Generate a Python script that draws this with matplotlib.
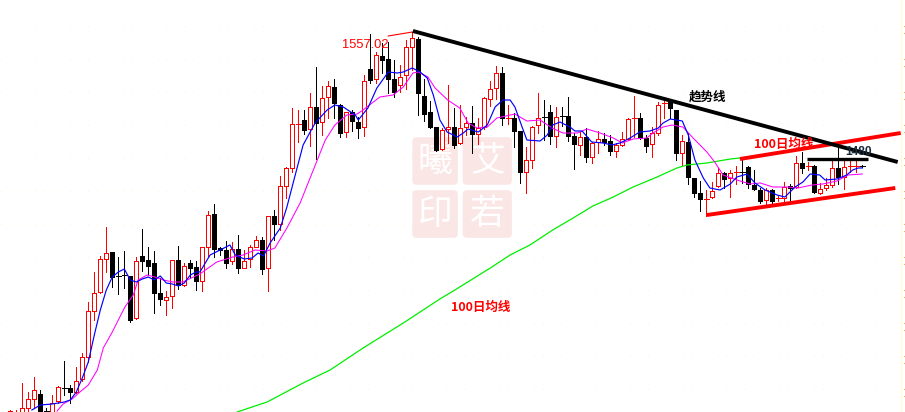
import matplotlib
matplotlib.use('Agg')
import matplotlib.pyplot as plt
from matplotlib.patches import FancyBboxPatch

# candles, levels are height above the bottom of the window
opens = [-4,-4,-2,4,13,18,1.5,0,11,24.5,24,20,33,55,101,120,153,160,136.5,137.5,136,94,156,152,149,119,112,116,152,127,149,145,131,165,198,164,162,151,163,144,153,165,172,144,196,188,226,244,288,292,283,305,290,315,325,307,280,300,290,285,343,333,356,353,333,327,337,365,373,316,300,285,263,283,285,269,285,289,278,285,313,324,339,294,294,281,240,252,287,295.5,300,276,296.5,296,276,267,275,255,270,273,271,261,267,273,294,294,274,268,279,309,310,302,259,270,234,219,213,215,226,239,234,240,240.5,245,227,222,212,222,214,214,226,225,249,246,246,219,224,227,244,235,246,246,246.5]
highs = [2,2,29,20,35,22,4,17,26,51,27,45,59,110,140,156,185,160,155,161,136,155,183,165,161,134,121,152,166,149,152,151,165,201,208,165,171,170,177,162,167,176,175,196,202,236,245,304,302,302,319,345,326,331,333,308,300,302,295,337,378,360,369,370,352,347,372,380,375,333,311,285,284,327,304,307,295,306,294,315,331,346,345,307,299,281,265,286,319,312,307,305,305,315,279,280,284,270,281,279,277,269,280,294,316,299,277,285,310,311,312,302,277,279,234,231,222,230,244,240,242,246,252,246,242,224,224,223,217,230,228,256,260,250,247,229,234,252,267,252,252,252,247]
lows = [-4,-4,-4,0,5,0,-2,-2,9,17,9,19,31,50,92,119,140,125,118,124,90,93,141,137,99,107,97,104,123,126,134,122,121,155,155,157,144,148,139,144,145,165,138,121,172,182,214,240,270,278,266,253,277,294,294,275,275,281,274,276,329,329,339,319,315,320,323,342,297,291,284,261,262,269,264,268,277,259,268,283,306,313,287,288,265,229,219,244,279,272,268,265,286,271,243,257,250,249,259,267,257,255,266,272,275,273,260,255,277,294,294,252,247,228,215,201,196,214,225,224,215,228,229,224,222,209,207,208,211,209,210,224,239,242,219,218,222,225,228,223,240,240,245]
closes = [1,0,4,13,22,1,1,9,25,24,20,31,55,101,119,153,159,135,136,137,92,151,151,146,119,113,115,152,127,146,144,131,165,197,163,162,149,163,144,151,165,172,143,196,188,226,244,288,288.5,282,305,289,314,326,309,279,300,291,284,331,332,357,352,333,320,335,365,374,319,298,285,262,282,285,267,284,289,278,284,314,323,339,294,294.5,281,240,252,285,294,295,276,295,296,276,268,275,255,269,273,270,261,267,273,293,294.5,274,266,279,307,309.5,304,259,271,235,219,213,213.5,221,239,233,239,240.5,240,228,223,211,222,211,214.5,225,224,249,244,246.5,220,223,227,244,235,245,246.5,246.5,246]

# moving averages, sampled as (bar, level)
ma_fast_bar = [4.6,6,8,10,11,12,13,14,15,16,17,18,19,20,21,22,23,24,25,26,27,28,29,30,31,32,32.6,34.3,36.3,37.6,38.5,40,41.3,42.3,43.2,44.3,46,47.1,48.4,49.8,51.8,53.8,55.1,56.5,58.5,59,60.6,62.1,64,65.5,66.5,68,69.3,70.5,71.5,72.6,73.8,75.5,76.5,77.3,79,80.5,81.8,83.1,84.3,85.1,86.3,87.1,89.3,90.5,91.4,92.6,94.3,95.1,96.3,97.9,99.8,101.3,102.6,104.3,105.9,107.6,109,109.8,111,113,114,115.1,116.5,117.6,119.3,121,122.1,123.8,125.1,126.8,128.8,130.1,131.8,133.1,134.3,135.9,136.8,138.8,140.4,141.4,142.3,143]
ma_fast = [2,7,8,10,12,20,34,50,77,102,122,135,140,143,132,130,133,135,132,136,129,128,126,129,137,140,140,157,163,167,157,153,154,159,156,169,184,205,235,267,289,302,307,305,297,292,304,324,340,339,340,344,340,334,317,292,280,275,279,283,280,287,305,312,312,305,285,272,271,277,287,290,285,281,281,270,269,267,269,274,280,281,284,289,293,291,277,252,234,224,222,228,235,238,229,222,217,215,225,230,238,237,232,233,237,242,244,244]
ma_slow_bar = [8.8,9.8,11.3,12.6,14,15.5,16.5,18,19,20.1,21.5,22.3,23.8,25.1,26.5,28.1,29.8,31.5,32.6,35.4,38.1,39.8,41.8,43.8,45.1,47.1,49.3,51.5,53.5,55.1,57.1,58.8,59.8,61.3,62.6,64.8,66.5,68.1,69,70.6,71.8,73.9,75.9,77.3,78.8,80.5,82.1,85.1,87.1,89.3,91.3,93.1,95.5,97.1,99.3,101.5,103,104.8,107.1,108.1,109.8,111.3,113.1,114.8,117.1,118.4,119.8,122.1,124.3,126,128.1,130.5,132.3,134.6,136.4,138.8,140.6,143]
ma_slow = [1,8,13,20,27,42,64,80,92,105,117,132,137,135,132,130,130,135,138,150,155,157,162,161,164,184,209,242,272,287,297,298,302,309,315,317,325,339,340,335,324,312,304,289,284,285,294,298,291,292,284,279,279,283,279,274,269,273,274,279,285,287,285,274,260,250,237,232,228,229,225,225,224,227,228,231,237,238]
ma100_bar = [38.8,43.8,49.8,54.3,59.8,66.5,72.6,75.1,81,84.3,87.6,91.4,94.8,98.1,101.5,104.8,108.8,112.1,113.8,117.1,121,122.6,132.6]
ma100 = [0,10,29,42,64,89,113,122,144,157,167,182,194,206,215,225,235,244,247,249,253,254,262]

# hand drawn lines on the chart: start bar, end bar, start level, end level
down_trend = [68.1, 148.9, 381, 250]
channel_top = [122.6, 149.4, 253, 279]
channel_bottom = [117.1, 148.5, 197, 224]
resistance = [133.8, 144, 253, 253]
peak_arc_bar = [64, 66, 68]
peak_arc = [376, 378, 380]
grid_levels = [386, 353, 320, 287, 254, 221, 188, 155, 122, 89, 56, 23]

RED = '#ff0000'
CJK = ['Noto Sans CJK SC', 'DejaVu Sans']
THIN = 0.72  # one pixel without antialiasing

fig = plt.figure(figsize=(9.05, 4.12), dpi=100)
ax = fig.add_axes([0, 0, 1, 1])
ax.set_xlim(-0.717, 150.117)
ax.set_ylim(0, 412)
ax.axis('off')

for g in grid_levels:
    ax.hlines(g, -0.717, 149.4, color='#fff3cc', lw=0.7, ls=(0, (1, 8)), zorder=0)
    # price axis ticks at the right border
    ax.hlines([g, g - 7], 149.9, 150.117, color='#c0701c', lw=0.8, zorder=1)
ax.axvline(149.5, color='#fff9d8', lw=0.9, zorder=0)

# seal in the middle of the chart
seal_cells = [(71.8, 251, 3.8, '曦'), (80.5, 251, 4.1, '艾'), (71.8, 198, 3.8, '印'), (80.5, 198, 4.1, '若')]
for bx, lv, half, ch in seal_cells:
    ax.add_patch(FancyBboxPatch((bx - half + 0.3, lv - 22), 2 * half - 0.6, 44, boxstyle='round,pad=0.3,rounding_size=0.7',
                                mutation_aspect=6, fc='#fbe6e6', ec='none', zorder=0.5))
    ax.text(bx, lv, ch, color='white', fontsize=25, family=CJK, ha='center', va='center', zorder=0.6)

bars = list(range(1, len(opens) + 1))
for i, o, h, l, c in zip(bars, opens, highs, lows, closes):
    col = RED if c > o else 'black'
    ax.vlines(i, l, h, color=col, lw=THIN, antialiased=False, zorder=2)
    if abs(c - o) <= 0.5:
        ax.hlines((o + c) / 2, i - 0.42, i + 0.42, color=col, lw=THIN, antialiased=False, zorder=3)
    else:
        ax.bar(i, abs(c - o), bottom=min(o, c), width=0.67, fc='white' if c > o else 'black',
               ec=col, lw=THIN, antialiased=False, zorder=3)

ax.plot(ma100_bar, ma100, color='#00ee00', lw=0.9, zorder=4)
ax.plot(ma_slow_bar, ma_slow, color='#ff00ff', lw=0.75, zorder=5)
ax.plot(ma_fast_bar, ma_fast, color='#0000ff', lw=0.85, zorder=6)

ax.plot(peak_arc_bar, peak_arc, color=RED, lw=0.8, zorder=6)
ax.plot(channel_top[:2], channel_top[2:], color=RED, lw=2.8, solid_capstyle='butt', zorder=7)
ax.plot(channel_bottom[:2], channel_bottom[2:], color=RED, lw=2.8, solid_capstyle='butt', zorder=7)
ax.plot(down_trend[:2], down_trend[2:], color='black', lw=2.8, solid_capstyle='butt', zorder=8)
ax.plot(resistance[:2], resistance[2:], color='black', lw=2.4, solid_capstyle='butt', zorder=8)

ax.text(56.3, 367, '1557.02', color=RED, fontsize=9.3, family='Liberation Sans', va='center', zorder=9)
ax.text(114, 315, '趋势线', color='black', fontsize=9, fontweight='bold', family=CJK, va='center', zorder=9)
ax.text(125, 268, '100日均线', color=RED, fontsize=9, fontweight='bold', family=CJK, va='center', zorder=9)
ax.text(74.5, 105, '100日均线', color=RED, fontsize=9, fontweight='bold', family=CJK, va='center', zorder=9)
ax.text(140.2, 260, '1480', color='#1c2c3c', fontsize=8.6, fontweight='bold', family='Liberation Sans', va='center', zorder=9)

fig.savefig('out.png', dpi=100, facecolor='white')
